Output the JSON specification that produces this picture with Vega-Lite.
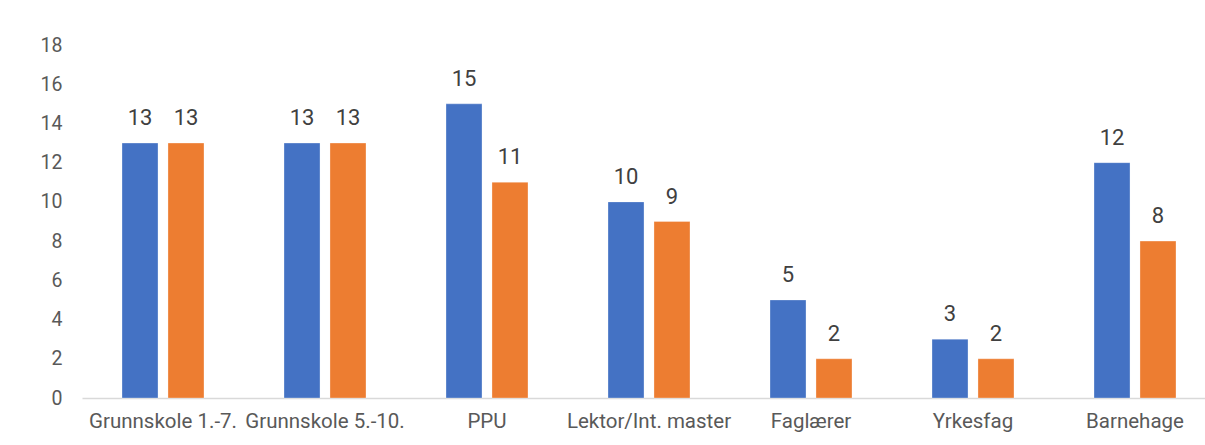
{
  "$schema": "https://vega.github.io/schema/vega-lite/v6.json",
  "width": 1123,
  "height": 353,
  "autosize": {"type": "none"},
  "padding": {"left": 82, "top": 45, "right": 0, "bottom": 47},
  "background": "white",
  "config": {
    "view": {"stroke": null},
    "font": "Roboto",
    "axis": {"labelFont": "Roboto", "labelColor": "#595959"}
  },
  "data": {
    "values": [
      {"kategori": "Grunnskole 1.-7.", "serie": "Serie 1", "verdi": 13},
      {"kategori": "Grunnskole 1.-7.", "serie": "Serie 2", "verdi": 13},
      {"kategori": "Grunnskole 5.-10.", "serie": "Serie 1", "verdi": 13},
      {"kategori": "Grunnskole 5.-10.", "serie": "Serie 2", "verdi": 13},
      {"kategori": "PPU", "serie": "Serie 1", "verdi": 15},
      {"kategori": "PPU", "serie": "Serie 2", "verdi": 11},
      {"kategori": "Lektor/Int. master", "serie": "Serie 1", "verdi": 10},
      {"kategori": "Lektor/Int. master", "serie": "Serie 2", "verdi": 9},
      {"kategori": "Faglærer", "serie": "Serie 1", "verdi": 5},
      {"kategori": "Faglærer", "serie": "Serie 2", "verdi": 2},
      {"kategori": "Yrkesfag", "serie": "Serie 1", "verdi": 3},
      {"kategori": "Yrkesfag", "serie": "Serie 2", "verdi": 2},
      {"kategori": "Barnehage", "serie": "Serie 1", "verdi": 12},
      {"kategori": "Barnehage", "serie": "Serie 2", "verdi": 8}
    ]
  },
  "encoding": {
    "x": {
      "field": "kategori",
      "type": "nominal",
      "sort": null,
      "title": null,
      "scale": {"paddingInner": 0, "paddingOuter": 0, "range": [0, 1134]},
      "axis": {
        "labelAngle": 0,
        "labelOverlap": false,
        "labelBound": false,
        "labelFontSize": 20.5,
        "ticks": false,
        "tickSize": 0,
        "labelPadding": 13,
        "domainColor": "#d9d9d9",
        "domainWidth": 1.5,
        "grid": false
      }
    },
    "xOffset": {
      "field": "serie",
      "type": "nominal",
      "scale": {"paddingInner": 0.217, "paddingOuter": 0.87}
    },
    "y": {
      "field": "verdi",
      "type": "quantitative",
      "title": null,
      "scale": {"domain": [0, 18], "nice": false},
      "axis": {
        "values": [0, 2, 4, 6, 8, 10, 12, 14, 16, 18],
        "domain": false,
        "ticks": false,
        "tickSize": 0,
        "grid": false,
        "labelFontSize": 19.5,
        "labelPadding": 20
      }
    }
  },
  "layer": [
    {
      "mark": {"type": "bar", "stroke": "white", "strokeWidth": 0.5, "strokeOpacity": 0.6},
      "encoding": {
        "color": {
          "field": "serie",
          "type": "nominal",
          "scale": {"domain": ["Serie 1", "Serie 2"], "range": ["#4472C4", "#ED7D31"]},
          "legend": null
        }
      }
    },
    {
      "mark": {"type": "text", "baseline": "bottom", "dy": -13, "fontSize": 22, "color": "#404040", "font": "Roboto"},
      "encoding": {"text": {"field": "verdi", "type": "quantitative"}}
    }
  ]
}
